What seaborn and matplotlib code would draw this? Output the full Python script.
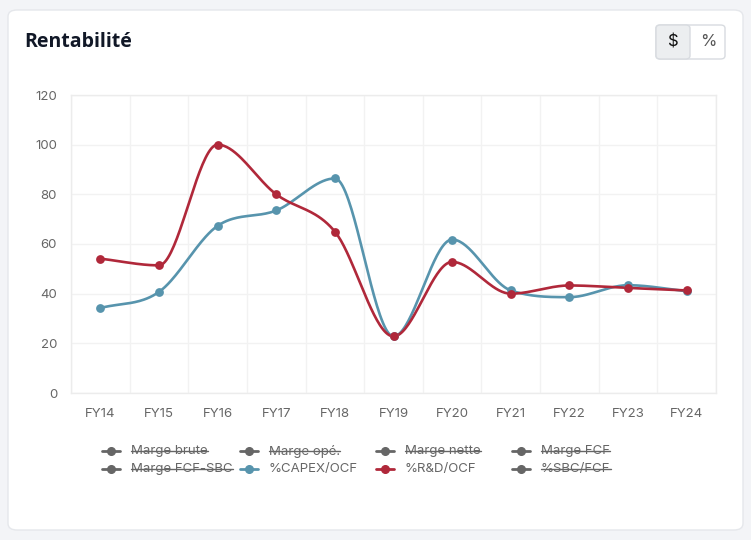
import numpy as np
import pandas as pd
import seaborn as sns
import matplotlib.pyplot as plt
from matplotlib.lines import Line2D
from matplotlib.patches import FancyBboxPatch

years = ['FY14', 'FY15', 'FY16', 'FY17', 'FY18', 'FY19', 'FY20', 'FY21', 'FY22', 'FY23', 'FY24']
capex_ocf = [34.2, 40.7, 67.3, 73.5, 86.4, 22.8, 61.8, 41.3, 38.6, 43.4, 41.0]
rd_ocf = [54.1, 51.4, 100.0, 80.0, 65.0, 22.8, 52.8, 40.0, 43.3, 42.3, 41.3]
legend_labels = ['Marge brute', 'Marge opé.', 'Marge nette', 'Marge FCF',
                 'Marge FCF-SBC', '%CAPEX/OCF', '%R&D/OCF', '%SBC/FCF']
legend_hidden = [True, True, True, True, True, False, False, True]

BLUE = '#5794ad'
RED = '#b0283a'
GREY = '#666666'
W, H = 751, 540


def monotone(xs, ys, n=40):
    # monotone cubic interpolation (Fritsch-Carlson)
    x = np.asarray(xs, float)
    y = np.asarray(ys, float)
    d = np.diff(y) / np.diff(x)
    m = np.zeros(len(x))
    m[0], m[-1] = d[0], d[-1]
    for i in range(1, len(x) - 1):
        m[i] = 0 if np.sign(d[i - 1]) != np.sign(d[i]) else (d[i - 1] + d[i]) / 2
    for i in range(len(d)):
        if abs(d[i]) < 1e-9:
            m[i] = m[i + 1] = 0
            continue
        a, b = m[i] / d[i], m[i + 1] / d[i]
        sq = a * a + b * b
        if sq > 9:
            tau = 3 / np.sqrt(sq)
            m[i], m[i + 1] = a * tau * d[i], b * tau * d[i]
    ox, oy = [], []
    t = np.linspace(0, 1, n)
    for i in range(len(d)):
        h = x[i + 1] - x[i]
        h00 = 2 * t ** 3 - 3 * t ** 2 + 1
        h10 = t ** 3 - 2 * t ** 2 + t
        h01 = -2 * t ** 3 + 3 * t ** 2
        h11 = t ** 3 - t ** 2
        ox.extend(x[i] + t * h)
        oy.extend(h00 * y[i] + h10 * h * m[i] + h01 * y[i + 1] + h11 * h * m[i + 1])
    return np.array(ox), np.array(oy)


sns.set_theme(style='white')
plt.rcParams['font.family'] = ['Inter', 'DejaVu Sans']

fig = plt.figure(figsize=(W / 100, H / 100), dpi=100)
fig.patch.set_facecolor('#f3f4f7')
card = FancyBboxPatch((8 / W, 10 / H), 735 / W, 520 / H, boxstyle='round,pad=0,rounding_size=0.012',
                      transform=fig.transFigure, facecolor='white', edgecolor='#e5e7eb', lw=1, zorder=-5)
fig.add_artist(card)

fig.text(24 / W, 1 - 42 / H, 'Rentabilité', fontsize=14, fontweight='bold', color='#111827',
         va='center', ha='left', family=['Open Sans', 'DejaVu Sans'])

# $ / % toggle
btn = FancyBboxPatch((656 / W, 1 - 59 / H), 69 / W, 34 / H, boxstyle='round,pad=0,rounding_size=0.006',
                     transform=fig.transFigure, facecolor='white', edgecolor='#d8dbe0', lw=1)
fig.add_artist(btn)
btn_left = FancyBboxPatch((656 / W, 1 - 59 / H), 34 / W, 34 / H, boxstyle='round,pad=0,rounding_size=0.006',
                          transform=fig.transFigure, facecolor='#eceef0', edgecolor='#d8dbe0', lw=1)
fig.add_artist(btn_left)
fig.text(673 / W, 1 - 42 / H, '$', fontsize=12, color='#111', ha='center', va='center')
fig.text(708 / W, 1 - 42 / H, '%', fontsize=12, color='#555', ha='center', va='center')

ax = fig.add_axes([71 / W, 1 - 393 / H, 645 / W, 298 / H])
ax.set_facecolor('none')
x = np.arange(len(years))
df = pd.DataFrame({'x': x, 'capex': capex_ocf, 'rd': rd_ocf})

for col, color in [('capex', BLUE), ('rd', RED)]:
    sx, sy = monotone(df['x'], df[col])
    sns.lineplot(x=sx, y=sy, color=color, lw=1.9, sort=False, estimator=None, ax=ax, zorder=3)
    sns.scatterplot(data=df, x='x', y=col, color=color, s=40, edgecolor=color, linewidth=0, ax=ax, zorder=4)

ax.set_xlim(-0.5, len(years) - 0.5)
ax.set_ylim(0, 120)
ax.set_yticks(range(0, 121, 20))
ax.set_xticks(x)
ax.set_xticklabels(years)
ax.set_xticks(np.arange(-0.5, len(years), 1), minor=True)
ax.set_xlabel('')
ax.set_ylabel('')
ax.grid(axis='y', color='#f2f2f2', lw=1)
ax.grid(axis='x', which='minor', color='#f2f2f2', lw=1)
ax.grid(axis='x', which='major', visible=False)
for s in ax.spines.values():
    s.set_color('#ececec')
    s.set_linewidth(1)
ax.tick_params(axis='both', which='both', length=0, labelsize=9.5, labelcolor=GREY)
ax.tick_params(axis='y', pad=10)
ax.tick_params(axis='x', pad=11)

# legend drawn as two rows of four
col_x = [111, 249, 385, 521]
row_y = [451, 469]
fig.canvas.draw()
renderer = fig.canvas.get_renderer()
for i, (lab, hidden) in enumerate(zip(legend_labels, legend_hidden)):
    cx = col_x[i % 4]
    cy = row_y[i // 4]
    if hidden:
        mc = GREY
    else:
        mc = BLUE if 'CAPEX' in lab else RED
    fig.add_artist(Line2D([(cx - 9) / W, (cx + 9) / W], [1 - cy / H, 1 - cy / H], color=mc, lw=2,
                          transform=fig.transFigure))
    fig.add_artist(Line2D([cx / W], [1 - cy / H], marker='o', markersize=5.5, color=mc,
                          transform=fig.transFigure))
    t = fig.text((cx + 20) / W, 1 - cy / H, lab, fontsize=9.5, color=GREY, ha='left', va='center')
    if hidden:
        bb = t.get_window_extent(renderer)
        fig.add_artist(Line2D([bb.x0 / W, bb.x1 / W], [1 - cy / H, 1 - cy / H], color=GREY, lw=1,
                              transform=fig.transFigure))

fig.savefig('out.png', dpi=100, facecolor=fig.get_facecolor())
